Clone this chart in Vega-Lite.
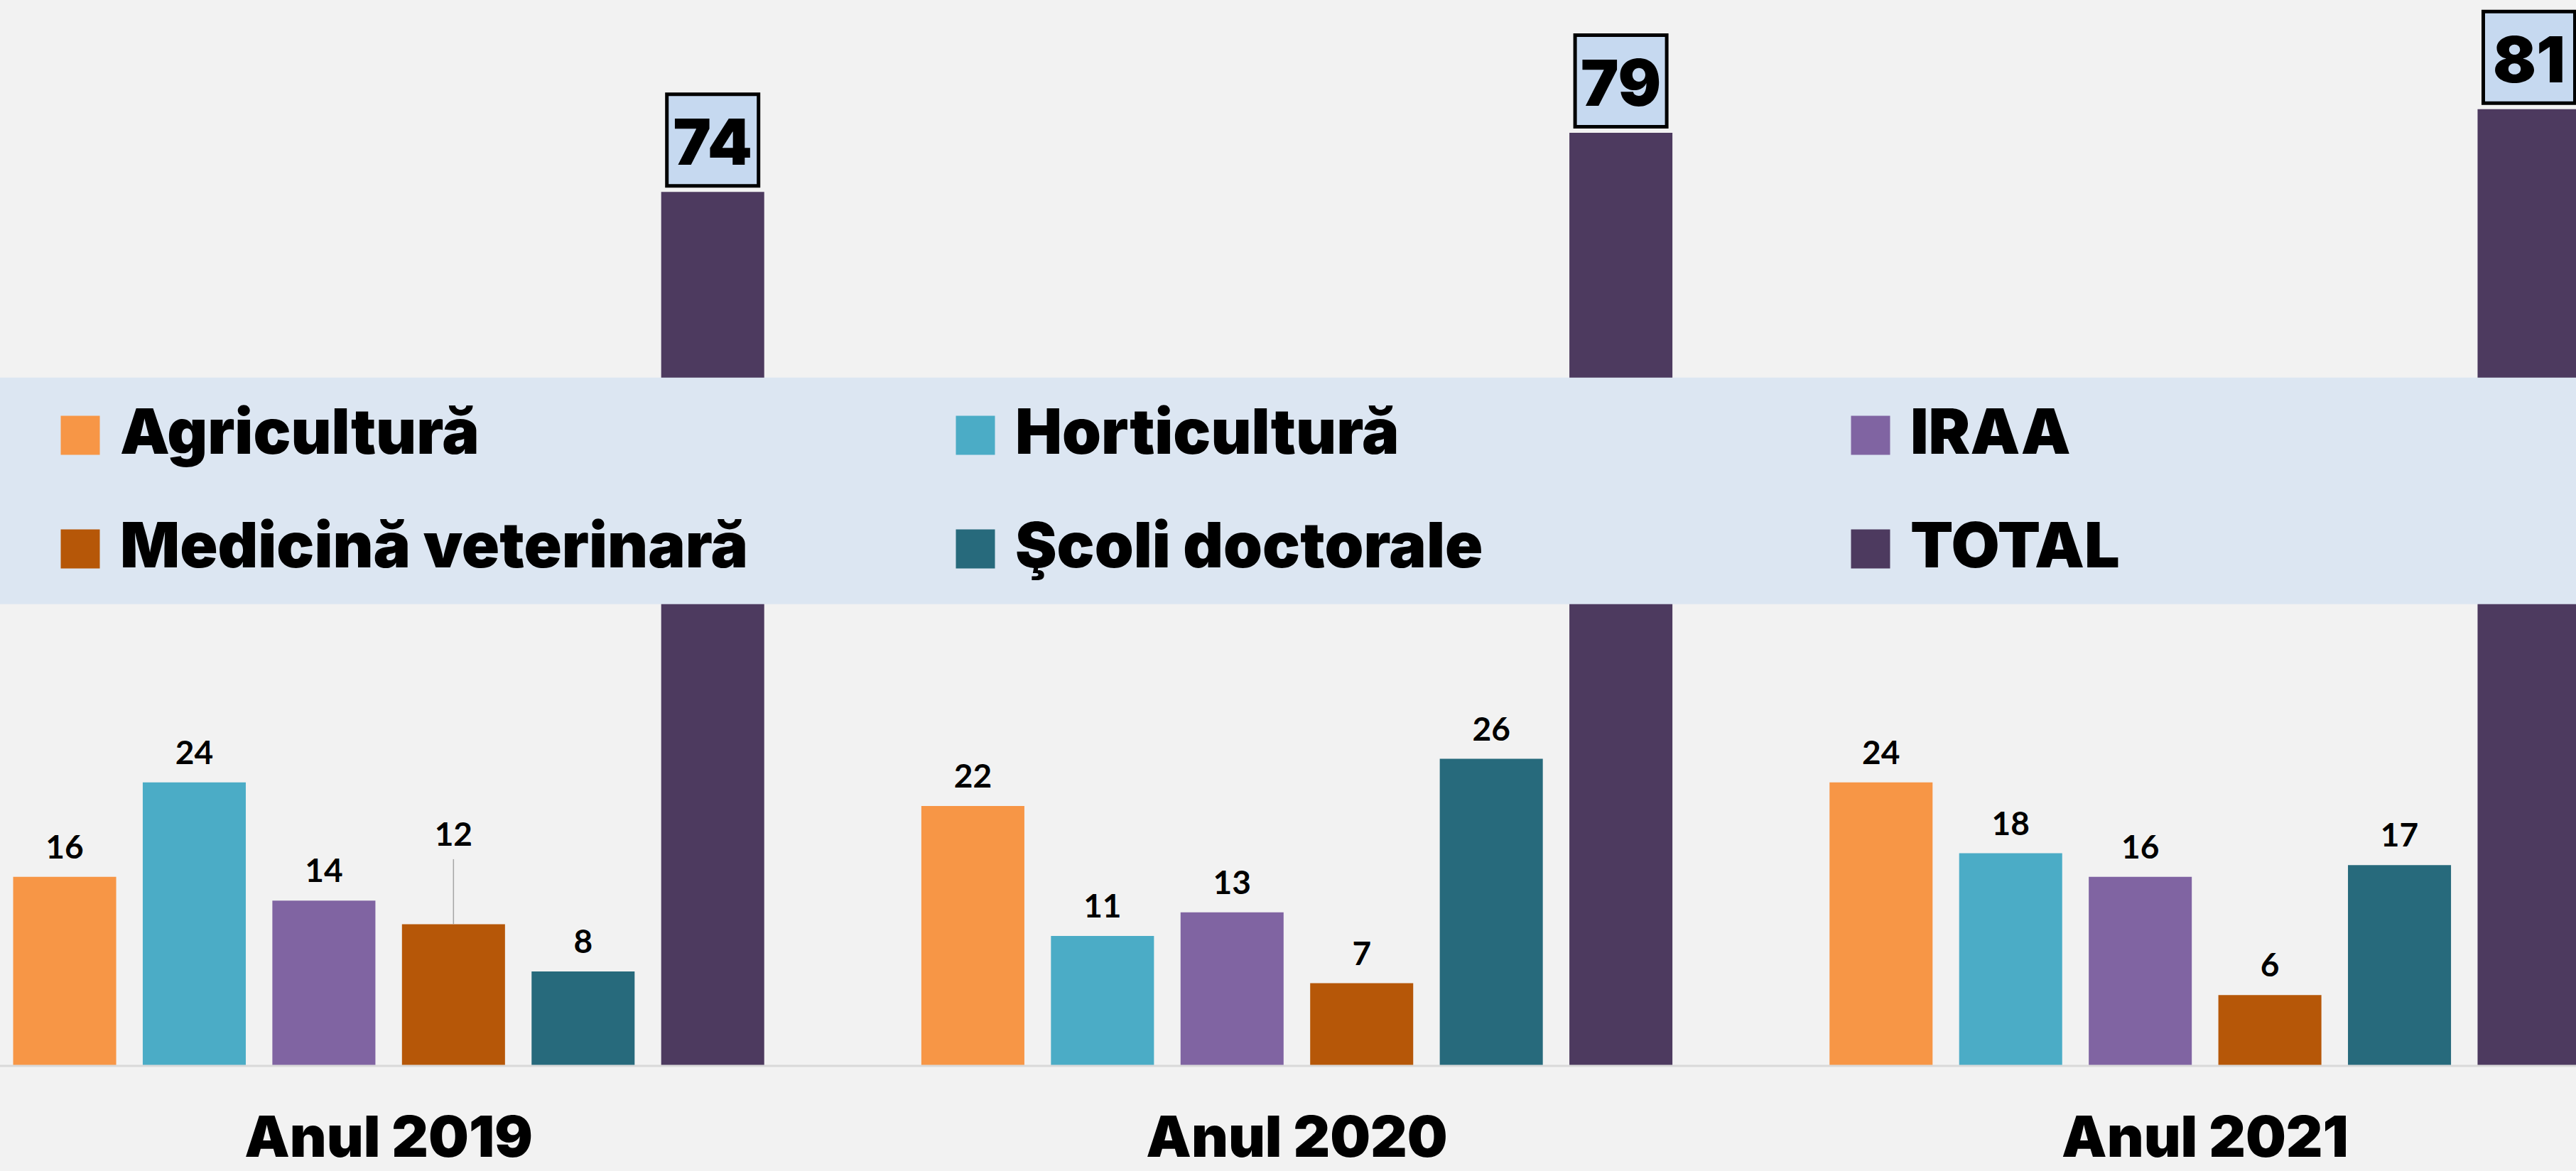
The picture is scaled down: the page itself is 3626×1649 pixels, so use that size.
{
  "$schema": "https://vega.github.io/schema/vega-lite/v6.json",
  "width": 3626,
  "height": 1497,
  "autosize": {"type": "none"},
  "padding": {"left": 0, "top": 4, "right": 0, "bottom": 148},
  "background": "#F2F2F2",
  "config": {"view": {"stroke": null}},
  "data": {"values": [
    {"an": "Anul 2019", "serie": "Agricultură", "valoare": 16},
    {"an": "Anul 2019", "serie": "Horticultură", "valoare": 24},
    {"an": "Anul 2019", "serie": "IRAA", "valoare": 14},
    {"an": "Anul 2019", "serie": "Medicină veterinară", "valoare": 12},
    {"an": "Anul 2019", "serie": "Şcoli doctorale", "valoare": 8},
    {"an": "Anul 2019", "serie": "TOTAL", "valoare": 74},
    {"an": "Anul 2020", "serie": "Agricultură", "valoare": 22},
    {"an": "Anul 2020", "serie": "Horticultură", "valoare": 11},
    {"an": "Anul 2020", "serie": "IRAA", "valoare": 13},
    {"an": "Anul 2020", "serie": "Medicină veterinară", "valoare": 7},
    {"an": "Anul 2020", "serie": "Şcoli doctorale", "valoare": 26},
    {"an": "Anul 2020", "serie": "TOTAL", "valoare": 79},
    {"an": "Anul 2021", "serie": "Agricultură", "valoare": 24},
    {"an": "Anul 2021", "serie": "Horticultură", "valoare": 18},
    {"an": "Anul 2021", "serie": "IRAA", "valoare": 16},
    {"an": "Anul 2021", "serie": "Medicină veterinară", "valoare": 6},
    {"an": "Anul 2021", "serie": "Şcoli doctorale", "valoare": 17},
    {"an": "Anul 2021", "serie": "TOTAL", "valoare": 81}
  ]},
  "layer": [
    {
      "mark": {"type": "bar"},
      "encoding": {
        "x": {"field": "an", "type": "nominal",
          "scale": {"range": [18.5, 3632.5], "paddingInner": 0.173, "paddingOuter": 0},
          "axis": {"title": null, "ticks": false, "domain": false, "labelAngle": 0, "labelLimit": 2000,
            "labelFont": "Inter", "labelFontWeight": 900, "labelFontSize": 80, "labelColor": "#000000",
            "labelBaseline": "alphabetic", "labelPadding": 127}},
        "xOffset": {"field": "serie", "type": "nominal",
          "scale": {"domain": ["Agricultură", "Horticultură", "IRAA", "Medicină veterinară", "Şcoli doctorale", "TOTAL"], "paddingInner": 0.205, "paddingOuter": 0}},
        "y": {"field": "valoare", "type": "quantitative", "scale": {"domain": [0, 90], "nice": false, "zero": true}, "axis": null},
        "color": {"field": "serie", "type": "nominal",
          "scale": {"domain": ["Agricultură", "Horticultură", "IRAA", "Medicină veterinară", "Şcoli doctorale", "TOTAL"],
                    "range": ["#F79646", "#4BACC6", "#8064A2", "#B65708", "#276A7C", "#4D3A5F"]},
          "legend": {"title": null, "orient": "none", "legendX": 69, "legendY": 565, "direction": "horizontal", "columns": 3,
            "gridAlign": "all", "columnPadding": 275, "rowPadding": 72, "padding": 0,
            "symbolType": "square", "symbolSize": 3025, "symbolStrokeWidth": 0, "labelOffset": 12,
            "labelFont": "Inter", "labelFontWeight": 900, "labelFontSize": 88, "labelColor": "#000000", "labelLimit": 3000}}
      }
    },
    {
      "data": {"values": [{"banda": "legenda"}]},
      "mark": {"type": "rect", "color": "#DCE6F2"},
      "encoding": {
        "y": {"datum": 58.27, "type": "quantitative"},
        "y2": {"datum": 39.09}}
    },
    {
      "data": {"values": [{"linie": "baza"}]},
      "mark": {"type": "rule", "color": "#D9D9D9", "strokeWidth": 3},
      "encoding": {"y": {"datum": 0, "type": "quantitative"}}
    },
    {
      "transform": [{"filter": "datum.serie !== 'TOTAL' && !(datum.serie === 'Medicină veterinară' && datum.an === 'Anul 2019')"}],
      "mark": {"type": "text", "baseline": "alphabetic", "dy": -26, "font": "Lato", "fontWeight": "bold", "fontSize": 46, "color": "#000000"},
      "encoding": {
        "x": {"field": "an", "type": "nominal"},
        "xOffset": {"field": "serie", "type": "nominal"},
        "y": {"field": "valoare", "type": "quantitative"},
        "text": {"field": "valoare", "type": "quantitative"}}
    },
    {
      "transform": [{"filter": "datum.serie === 'Medicină veterinară' && datum.an === 'Anul 2019'"}],
      "mark": {"type": "text", "baseline": "alphabetic", "dy": -110, "font": "Lato", "fontWeight": "bold", "fontSize": 46, "color": "#000000"},
      "encoding": {
        "x": {"field": "an", "type": "nominal"},
        "xOffset": {"field": "serie", "type": "nominal"},
        "y": {"field": "valoare", "type": "quantitative"},
        "text": {"field": "valoare", "type": "quantitative"}}
    },
    {
      "transform": [{"filter": "datum.serie === 'Medicină veterinară' && datum.an === 'Anul 2019'"}],
      "mark": {"type": "rule", "color": "#A6A6A6", "strokeWidth": 1.5},
      "encoding": {
        "x": {"field": "an", "type": "nominal"},
        "xOffset": {"field": "serie", "type": "nominal"},
        "y": {"field": "valoare", "type": "quantitative"},
        "y2": {"datum": 17.5}}
    },
    {
      "transform": [{"filter": "datum.serie === 'TOTAL'"}],
      "mark": {"type": "point", "shape": "square", "filled": true, "fill": "#C6D9F0", "stroke": "#000000", "strokeWidth": 5, "size": 16641, "opacity": 1, "yOffset": -73},
      "encoding": {
        "x": {"field": "an", "type": "nominal"},
        "xOffset": {"field": "serie", "type": "nominal"},
        "y": {"field": "valoare", "type": "quantitative"}}
    },
    {
      "transform": [{"filter": "datum.serie === 'TOTAL'"}],
      "mark": {"type": "text", "baseline": "alphabetic", "dy": -38, "font": "Inter", "fontWeight": 900, "fontSize": 90, "color": "#000000"},
      "encoding": {
        "x": {"field": "an", "type": "nominal"},
        "xOffset": {"field": "serie", "type": "nominal"},
        "y": {"field": "valoare", "type": "quantitative"},
        "text": {"field": "valoare", "type": "quantitative"}}
    }
  ]
}
